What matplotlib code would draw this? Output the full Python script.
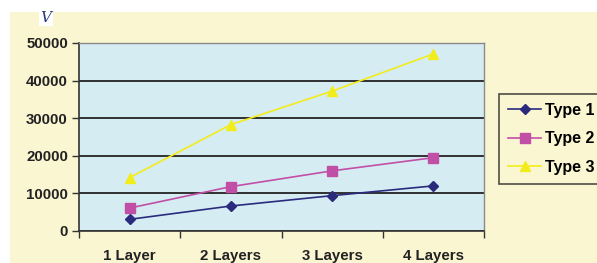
import matplotlib
matplotlib.use("Agg")
import matplotlib.pyplot as plt
from matplotlib.patches import Rectangle

categories = ["1 Layer", "2 Layers", "3 Layers", "4 Layers"]
type1 = [3100, 6650, 9400, 12000]
type2 = [6100, 11800, 16000, 19500]
type3 = [14200, 28300, 37200, 47100]
series_names = ["Type 1", "Type 2", "Type 3"]
yticks = [0, 10000, 20000, 30000, 40000, 50000]

W, H = 597, 263
fig = plt.figure(figsize=(W/100, H/100), dpi=100)
fig.patch.set_facecolor("white")
fig.patches.append(Rectangle((10/W, 0), 1, 1 - 12/H, transform=fig.transFigure,
                             facecolor="#FBF6D2", edgecolor="none", zorder=-10))

ax = fig.add_axes([79/W, 1 - 231/H, (484-79)/W, (231-43)/H])
ax.set_facecolor("#D5ECF3")
x = [0, 1, 2, 3]
colors = ["#2B2B7E", "#C24FA6", "#F3EC1B"]
markers = ["D", "s", "^"]
sizes = [5.5, 6.5, 7.5]
for vals, c, m, s, n in zip([type1, type2, type3], colors, markers, sizes, series_names):
    ax.plot(x, vals, color=c, marker=m, markersize=s, lw=1.2, label=n, zorder=3)

ax.set_xlim(-0.5, 3.5)
ax.set_ylim(0, 50000)
ax.set_yticks(yticks)
ax.set_yticklabels([str(v) for v in yticks])
ax.set_xticks(x)
ax.set_xticklabels(categories)
ax.set_xticks([-0.5, 0.5, 1.5, 2.5, 3.5], minor=True)
ax.tick_params(axis="x", which="major", length=0, pad=13)
ax.tick_params(axis="x", which="minor", length=5, width=1, color="#333333")
ax.tick_params(axis="y", length=5, width=1, color="#333333", pad=3)
for lab in ax.get_xticklabels() + ax.get_yticklabels():
    lab.set_fontfamily("Liberation Sans")
    lab.set_fontweight("bold")
    lab.set_fontsize(10.8)
    lab.set_color("#222222")
ax.grid(axis="y", color="#222222", lw=1.3)
ax.set_axisbelow(True)
for s in ["top", "right"]:
    ax.spines[s].set_color("#8A8A8A")
    ax.spines[s].set_linewidth(1)
for s in ["left", "bottom"]:
    ax.spines[s].set_color("#333333")
    ax.spines[s].set_linewidth(1.2)

leg = fig.legend(loc="upper left", bbox_to_anchor=(499/W, 1 - 94/H),
                 prop={"family": "Liberation Sans", "weight": "bold", "size": 11.5},
                 frameon=True, fancybox=False, handlelength=2.1, handletextpad=0.2,
                 borderpad=0.55, labelspacing=0.85, borderaxespad=0)
leg.get_frame().set_edgecolor("#222222")
leg.get_frame().set_facecolor("#FBF6D2")
leg.get_frame().set_linewidth(1.2)

fig.text(46/W, 1 - 18/H, "V", fontfamily="DejaVu Serif", style="italic",
         fontsize=11, color="#2B3A7A", ha="center", va="center",
         bbox=dict(facecolor="white", edgecolor="none", pad=1))

fig.savefig("out.png", dpi=100)
